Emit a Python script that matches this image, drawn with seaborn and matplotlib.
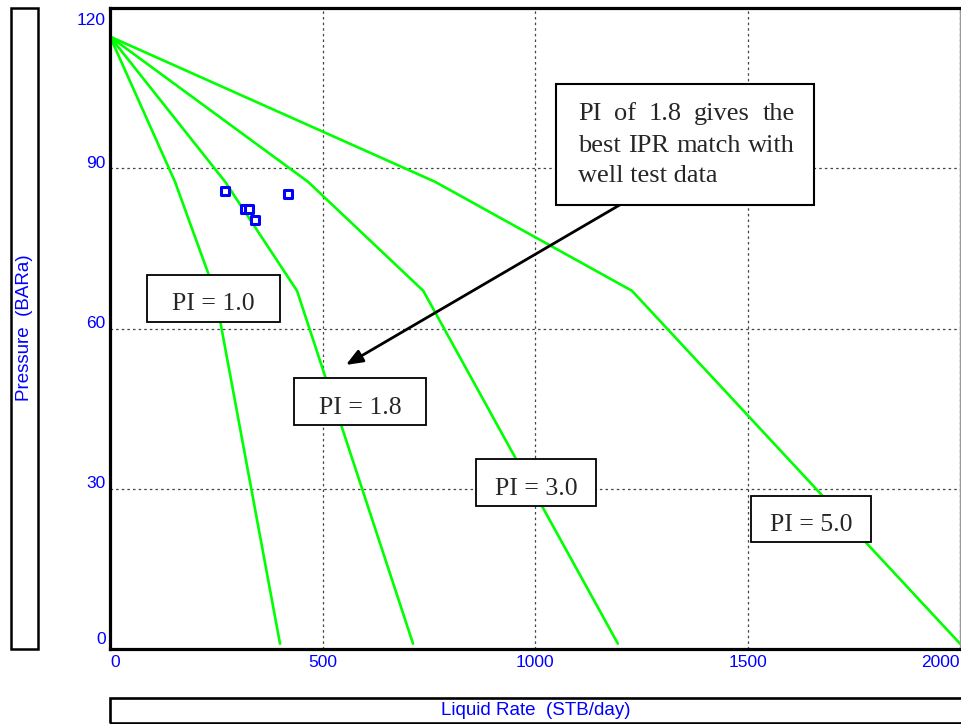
import matplotlib
matplotlib.use("Agg")
import matplotlib.pyplot as plt
import pandas as pd
import seaborn as sns
from matplotlib.patches import Rectangle
from matplotlib.transforms import ScaledTranslation

# ---- data -------------------------------------------------------------
pi_values = [1.0, 1.8, 3.0, 5.0]
ipr_pressure = [114.7, 87.5, 67.1, 1.0]          # BARa
rate_pi_1_0 = [0, 153, 246, 400]                 # STB/day
rate_pi_1_8 = [0, 271, 440, 713]
rate_pi_3_0 = [0, 466, 737, 1195]
rate_pi_5_0 = [0, 765, 1228, 2000]

test_rate = [271, 318, 328, 341, 418]
test_pressure = [85.8, 82.4, 82.5, 80.4, 85.2]

x_ticks = [0, 500, 1000, 1500, 2000]
y_ticks = [0, 30, 60, 90, 120]
pi_labels = ["PI = 1.0", "PI = 1.8", "PI = 3.0", "PI = 5.0"]

ipr = pd.DataFrame({
    "PI": [p for p in pi_values for _ in ipr_pressure],
    "rate": rate_pi_1_0 + rate_pi_1_8 + rate_pi_3_0 + rate_pi_5_0,
    "pressure": ipr_pressure * len(pi_values),
})
tests = pd.DataFrame({"rate": test_rate, "pressure": test_pressure})

# ---- figure -----------------------------------------------------------
sns.set_style("white")
plt.rcParams["font.family"] = ["Liberation Sans", "DejaVu Sans"]

W, H = 961, 724
fig = plt.figure(figsize=(W / 100, H / 100), dpi=100)


def fx(px):
    return px / W


def fy(py):
    return 1 - py / H


ax = fig.add_axes([fx(110), fy(649), 850 / W, (649 - 8.3) / H])

sns.lineplot(data=ipr, x="rate", y="pressure", units="PI", estimator=None,
             sort=False, color="#00ff00", lw=1.9, ax=ax, legend=False)
sns.scatterplot(data=tests, x="rate", y="pressure", marker="s", s=33,
                facecolor="white", edgecolor="#0000ff", linewidth=2.2,
                ax=ax, zorder=5, legend=False)

ax.set_xlim(0, 2000)
ax.set_ylim(0, 120)
ax.set_xticks(x_ticks)
ax.set_yticks(y_ticks)
ax.set_xlabel("")
ax.set_ylabel("")
ax.grid(True, color="#444444", linestyle=(0, (2, 2.5)), linewidth=0.9)
ax.tick_params(length=0, labelcolor="#0000ff", labelsize=12.5)
ax.tick_params(axis="x", pad=4.6)
ax.tick_params(axis="y", pad=3)

for side in ("left", "bottom", "top"):
    ax.spines[side].set_color("black")
    ax.spines[side].set_linewidth(2.3)
ax.spines["right"].set_color("#999999")
ax.spines["right"].set_linewidth(1)

# keep the end tick labels inside the plotting frame
xlabels = ax.get_xticklabels()
xlabels[0].set_ha("left")
xlabels[-1].set_ha("right")
for lab, v in zip(ax.get_yticklabels(), y_ticks):
    if v == 0:
        dy = 10.7
    elif v == 120:
        dy = -10.7
    else:
        dy = 6.5
    lab.set_transform(lab.get_transform() +
                      ScaledTranslation(0, dy / 100, fig.dpi_scale_trans))

# ---- axis title frames ------------------------------------------------
fig.add_artist(Rectangle((fx(10.5), fy(648.5)), 27.5 / W, 640.5 / H,
                         transform=fig.transFigure, fill=False,
                         edgecolor="black", lw=1.8))
fig.text(fx(25), fy(328), "Pressure  (BARa)", rotation=90, color="#0000ff",
         fontsize=13.5, ha="center", va="center")

fig.add_artist(Rectangle((fx(110), fy(722.5)), 855 / W, 25 / H,
                         transform=fig.transFigure, fill=False,
                         edgecolor="black", lw=1.9, clip_on=False))
fig.text(fx(536), fy(710.5), "Liquid Rate  (STB/day)", color="#0000ff",
         fontsize=13.5, ha="center", va="center")

# ---- PI label boxes ---------------------------------------------------
serif = ["Liberation Serif", "DejaVu Serif"]
label_boxes = [(146.7, 275, 133.3, 47.3),
               (294.3, 378.5, 132, 47),
               (476.3, 459.3, 119.7, 46.4),
               (751, 495.7, 120, 46)]
for text, (bx, by, bw, bh) in zip(pi_labels, label_boxes):
    fig.add_artist(Rectangle((fx(bx), fy(by + bh)), bw / W, bh / H,
                             transform=fig.transFigure, facecolor="white",
                             edgecolor="black", lw=1.3, zorder=10))
    fig.text(fx(bx + bw / 2), fy(by + 35.5), text, family=serif,
             fontsize=18.5, ha="center", va="baseline", zorder=11)

# ---- callout with arrow -----------------------------------------------
ax.annotate("", xy=(555, 53.2), xytext=(1200, 83.2),
            arrowprops=dict(arrowstyle="-|>,head_length=0.5,head_width=0.2",
                            mutation_scale=20, lw=2, color="black",
                            shrinkA=0, shrinkB=0),
            zorder=9)

cb_x, cb_y, cb_w, cb_h = 555.7, 84, 258.6, 121
fig.add_artist(Rectangle((fx(cb_x), fy(cb_y + cb_h)), cb_w / W, cb_h / H,
                         transform=fig.transFigure, facecolor="white",
                         edgecolor="black", lw=1.5, zorder=10))

callout_lines = ["PI of 1.8 gives the", "best IPR match with", "well test data"]
baselines = [120, 151.5, 181.5]
text_left, text_right = 578.3, 795
renderer = fig.canvas.get_renderer()
for i, (line, base) in enumerate(zip(callout_lines, baselines)):
    words = line.split()
    if i == len(callout_lines) - 1:
        fig.text(fx(text_left), fy(base), line, family=serif, fontsize=19,
                 ha="left", va="baseline", zorder=11)
        continue
    arts = [fig.text(0, fy(base), w, family=serif, fontsize=19,
                     ha="left", va="baseline", zorder=11) for w in words]
    widths = [a.get_window_extent(renderer).width for a in arts]
    gap = (text_right - text_left - sum(widths)) / (len(words) - 1)
    x = text_left
    for a, w in zip(arts, widths):
        a.set_x(fx(x))
        x += w + gap

fig.savefig("out.png", dpi=100)
